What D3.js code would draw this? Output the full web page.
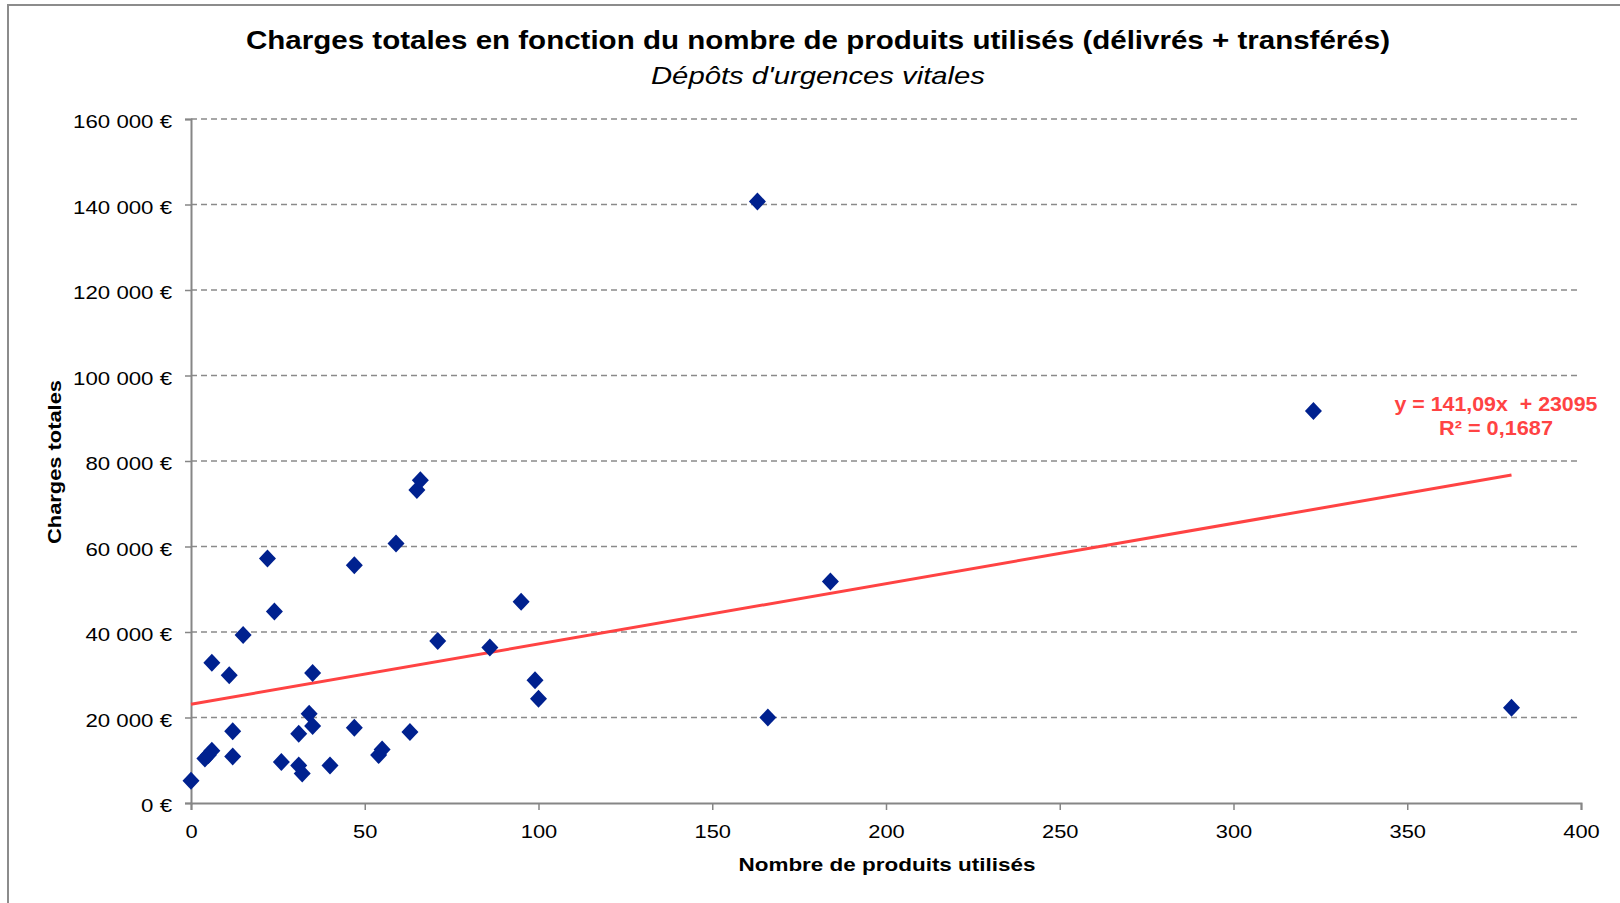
<!DOCTYPE html>
<meta charset="utf-8">
<html>
<head>
<title>Charges totales</title>
<script src="https://cdn.jsdelivr.net/npm/d3@7"></script>
<style>
  body { margin: 0; background: #fff; }
  text { font-family: "Liberation Sans", Arial, sans-serif; fill: #000; }
</style>
</head>
<body>
<script>

// nombre de produits utilisés (délivrés + transférés)
var produits = [0, 4, 5, 6, 6, 11, 15, 12, 12, 22, 24, 26, 31, 31, 32, 34, 35, 35, 40,
                47, 47, 54, 55, 59, 63, 65, 66, 71, 86, 95, 99, 100, 163, 166, 184, 323, 380];
// charges totales (€)
var charges = [5200, 10400, 11200, 12200, 32800, 29900, 39300, 16800, 10900, 57200, 44800,
               9600, 16200, 8800, 6900, 20900, 18000, 30400, 8800, 55600, 17600, 11200,
               12500, 60700, 16600, 73200, 75500, 37900, 36400, 47100, 28700, 24400,
               140700, 20000, 51800, 91700, 22300];

// courbe de tendance linéaire (Excel)
var pente = 141.09, origine = 23095, r2 = 0.1687;

var xTicks = [0, 50, 100, 150, 200, 250, 300, 350, 400];
var yTicks = [0, 20000, 40000, 60000, 80000, 100000, 120000, 140000, 160000];

var width = 1620, height = 903;
var margin = {left: 191, right: 39, top: 119, bottom: 100};

var fr = d3.formatLocale({decimal: ",", thousands: " ", grouping: [3], currency: ["", " €"]});
var fmtEuro = function(d) { return fr.format(",")(d) + " €"; };
var fmtNum = function(v, n) { return fr.format("." + n + "f")(v); };

var svg = d3.select("body").append("svg")
    .attr("width", width)
    .attr("height", height);

// cadre du graphique
svg.append("rect")
    .attr("x", 8).attr("y", 5)
    .attr("width", 1700).attr("height", 1000)
    .attr("fill", "#fff")
    .attr("stroke", "#8c8c8c")
    .attr("stroke-width", 2);

var x = d3.scaleLinear().domain([0, 400]).range([margin.left, width - margin.right]);
var y = d3.scaleLinear().domain([0, 160000]).range([height - margin.bottom, margin.top]);

// stretch text horizontally, like the original picture
function stretch(sel, k) {
  sel.each(function() {
    var w = this.getComputedTextLength();
    d3.select(this).attr("textLength", w * k).attr("lengthAdjust", "spacingAndGlyphs");
  });
}

// grille
svg.append("g")
    .selectAll("line")
    .data(yTicks.filter(function(d) { return d > 0; }))
    .enter().append("line")
    .attr("x1", x(0)).attr("x2", x(400) - 4)
    .attr("y1", function(d) { return y(d); })
    .attr("y2", function(d) { return y(d); })
    .attr("stroke", "#8a8a8a")
    .attr("stroke-width", 1.4)
    .attr("stroke-dasharray", "6,4");

// axes
var yAxis = svg.append("g")
    .attr("transform", "translate(" + x(0) + ",0)")
    .call(d3.axisLeft(y).tickValues(yTicks).tickSize(6).tickPadding(13).tickFormat(fmtEuro));

var xAxis = svg.append("g")
    .attr("transform", "translate(0," + y(0) + ")")
    .call(d3.axisBottom(x).tickValues(xTicks).tickSize(7).tickPadding(14).tickFormat(d3.format("d")));

[yAxis, xAxis].forEach(function(a) {
  a.select(".domain").attr("stroke", "#868686").attr("stroke-width", 2);
  a.selectAll(".tick line").attr("stroke", "#868686").attr("stroke-width", 1.5);
  a.selectAll(".tick text")
      .style("font-family", "'Liberation Sans', Arial, sans-serif")
      .style("font-size", "19px")
      .attr("fill", "#000");
});
yAxis.selectAll(".tick text").attr("dy", "0.45em");
xAxis.selectAll(".tick text").attr("dy", "0.72em");
stretch(yAxis.selectAll(".tick text"), 1.17);
stretch(xAxis.selectAll(".tick text"), 1.15);

// courbe de tendance
var xmin = d3.min(produits), xmax = d3.max(produits);
svg.append("line")
    .attr("x1", x(xmin)).attr("y1", y(pente * xmin + origine))
    .attr("x2", x(xmax)).attr("y2", y(pente * xmax + origine))
    .attr("stroke", "#ff4343")
    .attr("stroke-width", 3);

// points
var points = produits.map(function(p, i) { return {x: p, y: charges[i]}; });
svg.append("g")
    .selectAll("path")
    .data(points)
    .enter().append("path")
    .attr("d", "M0,-9L8.5,0L0,9L-8.5,0Z")
    .attr("transform", function(d) { return "translate(" + x(d.x) + "," + y(d.y) + ")"; })
    .attr("fill", "#00218f");

// titres
svg.append("text")
    .attr("x", 818).attr("y", 49)
    .attr("text-anchor", "middle")
    .style("font-size", "25px").style("font-weight", "bold")
    .attr("textLength", 1144).attr("lengthAdjust", "spacingAndGlyphs")
    .text("Charges totales en fonction du nombre de produits utilisés (délivrés + transférés)");

svg.append("text")
    .attr("x", 818).attr("y", 84)
    .attr("text-anchor", "middle")
    .style("font-size", "24px").style("font-style", "italic")
    .attr("textLength", 334).attr("lengthAdjust", "spacingAndGlyphs")
    .text("Dépôts d'urgences vitales");

svg.append("text")
    .attr("x", 887).attr("y", 871)
    .attr("text-anchor", "middle")
    .style("font-size", "19px").style("font-weight", "bold")
    .attr("textLength", 297).attr("lengthAdjust", "spacingAndGlyphs")
    .text("Nombre de produits utilisés");

svg.append("text")
    .attr("transform", "translate(61,462) rotate(-90)")
    .attr("text-anchor", "middle")
    .style("font-size", "19px").style("font-weight", "bold")
    .attr("textLength", 164).attr("lengthAdjust", "spacingAndGlyphs")
    .text("Charges totales");

// équation de la tendance
svg.append("text")
    .attr("x", 1496).attr("y", 411)
    .attr("text-anchor", "middle")
    .style("font-size", "20px").style("font-weight", "bold")
    .style("fill", "#ff4343")
    .style("white-space", "pre")
    .attr("textLength", 203).attr("lengthAdjust", "spacingAndGlyphs")
    .text("y = " + fmtNum(pente, 2) + "x  + " + origine);

svg.append("text")
    .attr("x", 1496).attr("y", 435)
    .attr("text-anchor", "middle")
    .style("font-size", "20px").style("font-weight", "bold")
    .style("fill", "#ff4343")
    .attr("textLength", 114).attr("lengthAdjust", "spacingAndGlyphs")
    .text("R² = " + fmtNum(r2, 4));

</script>
</body>
</html>
